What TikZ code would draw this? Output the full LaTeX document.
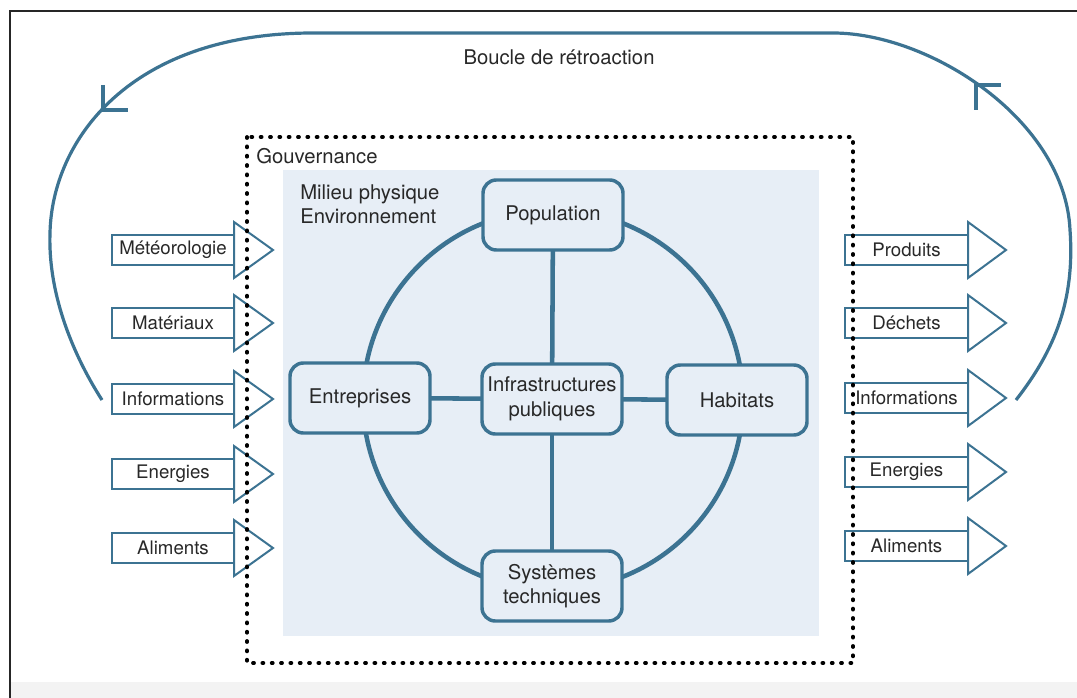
\documentclass[tikz,border=0pt]{standalone}
\usepackage{fontspec}
\setmainfont{TeX Gyre Heros}
\usetikzlibrary{calc}

\definecolor{steel}{RGB}{60,115,146}
\definecolor{paleblue}{RGB}{231,238,246}
\definecolor{txtgray}{RGB}{40,40,40}
\definecolor{bandgray}{RGB}{243,243,243}

\tikzset{
  unit/.style={draw=steel, line width=2.6pt, fill=paleblue, rounded corners=10pt,
    minimum width=105pt, minimum height=52.5pt, inner sep=2pt, outer sep=0pt,
    align=center, text=txtgray, font=\fontsize{15.2}{18.5}\selectfont},
  spoke/.style={draw=steel, line width=3.4pt},
  flowbody/.style={draw=steel, line width=1.5pt, fill=white, minimum height=23pt,
    inner sep=0pt, outer sep=0pt, text=txtgray, font=\fontsize{14}{16}\selectfont},
  flowhead/.style={draw=steel, line width=1.5pt, fill=white, line join=miter},
  fbloop/.style={draw=steel, line width=2.4pt},
}

\begin{document}
\begin{tikzpicture}[x=0.75pt,y=0.75pt,yscale=-1,xscale=1]
\useasboundingbox (0,0) rectangle (1077,698);

%Shape: page band and frame
\fill[bandgray] (11,682) rectangle (1077,698);
\draw[line width=1.5pt, black!85] (10,698) -- (10,11) -- (1077,11);

%Curve: feedback loop
\draw[fbloop] (102,400) .. controls (70,350) and (48,290) .. (50,233)
  .. controls (52,140) and (130,33) .. (313,33) -- (833,33)
  .. controls (930,33) and (1065,120) .. (1070,230)
  .. controls (1075,300) and (1055,350) .. (1016,400);
% loop ticks
\draw[fbloop] (103,85) -- (103,110) -- (128,110);
\draw[fbloop] (1001,85) -- (976,85) -- (976,110);

% Text Node
\node[text=txtgray, font=\fontsize{15.2}{18}\selectfont] (loop) at (559,57) {Boucle de rétroaction};

%Shape: Rectangle (milieu)
\fill[paleblue] (283,170) rectangle (819,636);

%Shape: Circle
\coordinate (hub) at (553,400);
\draw[steel, line width=3.4pt] (hub) circle [radius=190];

% units
\node[unit] (pop) at (553,215) {Population};
\node[unit] (ent) at (360,398) {Entreprises};
\node[unit] (infra) at (552,399) {Infrastructures\\publiques};
\node[unit] (hab) at (737,400) {Habitats};
\node[unit] (sys) at (552,586) {Systèmes\\techniques};

\draw[spoke] (pop) -- (infra);
\draw[spoke] (ent) -- (infra);
\draw[spoke] (infra) -- (hab);
\draw[spoke] (infra) -- (sys);

% inputs
\foreach \yy/\nm/\txt in {250/met/Météorologie, 323/mat/Matériaux, 399/infin/Informations, 474/enin/Energies, 548/alin/Aliments}{
  \node[flowbody, minimum width=91.5pt] (\nm) at (173,\yy) {\txt};
  \draw[flowhead] (\nm.east) ++(0,-28) -- ++(39,28) -- ++(-39,28) -- cycle;
}
% outputs
\foreach \yy/\nm/\txt in {250/prod/Produits, 323/dech/Déchets, 398/infout/Informations, 472/enout/Energies, 546/alout/Aliments}{
  \node[flowbody, minimum width=92.25pt] (\nm) at (906.5,\yy) {\txt};
  \draw[flowhead] (\nm.east) ++(0,-28) -- ++(38,28) -- ++(-38,28) -- cycle;
}

%Shape: Rectangle (gouvernance)
\draw[black, line width=2.8pt, line cap=round, dash pattern=on 0.8pt off 6.2pt] (247,137) rectangle (853,663);

% Text Node
\node[anchor=west, inner sep=0pt, text=txtgray, font=\fontsize{15.2}{18}\selectfont] (gouv) at (256,156) {Gouvernance};
% Text Node
\node[anchor=west, inner sep=0pt, align=left, text=txtgray, font=\fontsize{15.2}{18}\selectfont] (milieu) at (300,204) {Milieu physique\\Environnement};

\end{tikzpicture}
\end{document}
